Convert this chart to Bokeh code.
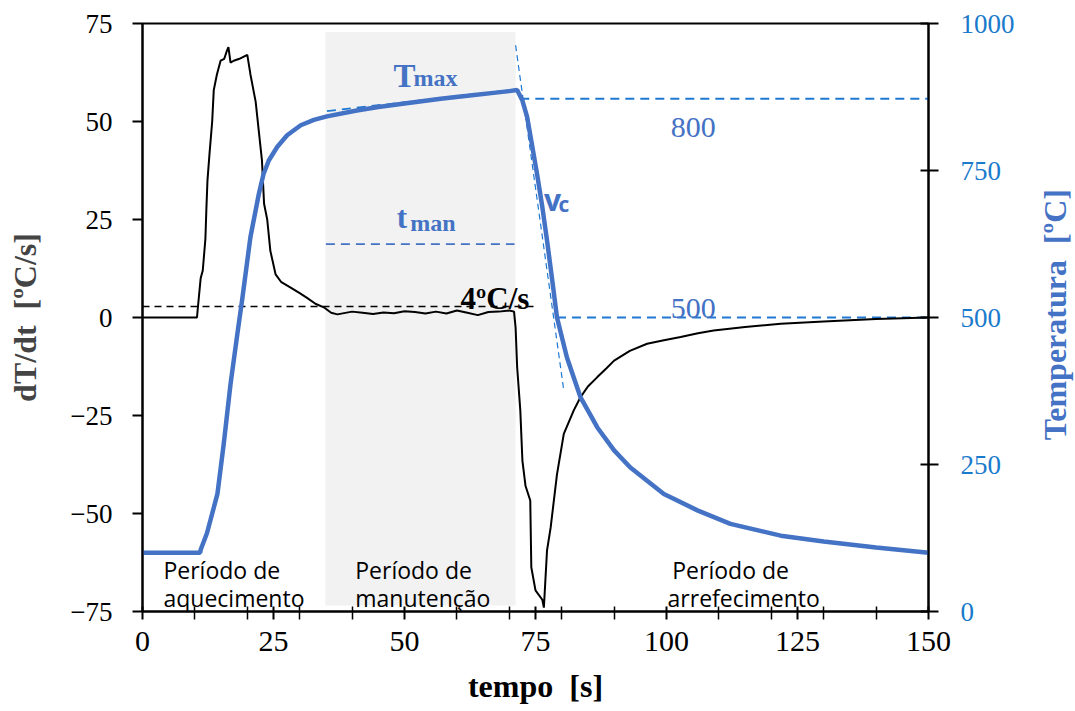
import math
from bokeh.plotting import figure
from bokeh.layouts import row
from bokeh.models import Range1d, LinearAxis, FixedTicker
from bokeh.core.properties import value
from bokeh.embed import file_html
from bokeh.resources import INLINE

# ---------------- data ----------------
t_temp = [0, 11.0, 11.1, 12.3, 14.3, 15.5, 16.8, 18.1, 19.0, 20.6, 22.2, 23.1, 24.1, 25.7,
          27.6, 30.2, 32.7, 35.2, 40.9, 45, 50, 56.9, 62, 67, 70, 71.5, 72.5, 73.4, 74.4,
          75.3, 76.3, 77.2, 78.2, 79.1, 81.0, 83.6, 86.8, 90.0, 93.1, 99.5, 105.9, 112.2,
          121.8, 130, 140, 150]
temp = [100, 100, 105, 133, 200, 285, 387, 472, 529, 637, 710, 744, 767, 790,
        810, 827, 836, 842, 852, 858, 864, 872, 877, 882, 885, 887, 869, 841, 790,
        744, 688, 631, 563, 500, 432, 364, 313, 274, 245, 200, 172, 149,
        129, 119, 109, 100]

t_rate = [0, 10.4, 10.6, 11.1, 11.5, 12.0, 12.2, 12.4, 12.8, 13.3, 13.6, 14.2, 14.9, 15.6,
          16.1, 16.4, 16.8, 17.4, 18.5, 20.0, 20.6, 21.6, 22.2, 22.8, 23.2, 23.8, 24.4,
          25.4, 26.5, 28.2, 30, 31.4, 33, 34.6, 36, 37.2, 40, 42, 44, 46, 48, 50, 52, 54,
          56, 58, 60, 62, 64, 66, 68, 70, 70.9, 71.2, 71.5, 72.1, 72.5, 73.1, 74.0,
          74.2, 75.0, 76.3, 76.6, 77.2, 77.9, 79.1, 80.4, 82.3, 83.6, 85.0, 86.8, 88.5,
          90, 93, 96.3, 99.5, 102.7, 106, 109, 115, 121.8, 130, 140, 150]
rate = [0, 0, 3, 10, 12, 20, 28, 35, 42, 50, 58, 62, 65.5, 66, 68, 69, 65, 65.5, 66, 67,
        62, 55, 47.5, 40, 29, 25, 17, 11, 9, 7.7, 6.2, 5, 3.5, 2.6, 1.2, 0.8, 1.5, 1.2, 0.9,
        1.3, 1.1, 1.6, 1.4, 1.0, 1.5, 1.0, 1.8, 1.2, 0.6, 1.4, 1.5, 1.8, 1.5, -2.5, -12.7,
        -23.7, -36.5, -43, -46.7, -63.7, -69.6, -72, -74, -59.4, -53.5, -40, -29.7,
        -23.7, -20.3, -17.6, -15.2, -13.0, -11, -8.5, -6.7, -5.8, -5, -4.0, -3.3, -2.4,
        -1.6, -1.0, -0.4, 0]

x_ticks = [0, 25, 50, 75, 100, 125, 150]
x_minor = [10, 20, 30, 40, 60, 70, 80, 90, 110, 120, 130, 140]
rate_ticks = [-75, -50, -25, 0, 25, 50, 75]
temp_ticks = [0, 250, 500, 750, 1000]

hold_period = [34.9, 71.2]        # período de manutenção
rate_ref = 2.8                    # "4ºC/s" reference line
tmax_line_t = [35.2, 71.5]
tmax_line_T = [851, 888]
t800 = [72.1, 150]
T800 = [872, 872]
t500 = [79.1, 150]
T500 = [500, 500]
vc_t = [71.2, 80.4]
vc_T = [963, 376]
tman_t = [35, 71]
tman_y = [18.7, 18.7]

# ---------------- figure ----------------
BLUE = "#4472c4"
DBLUE = "#1f78d1"
AXBLUE = "#1a7acb"
SERIF = "Liberation Serif"
SANS = "Open Sans"
NB = "\u00a0"

p = figure(width=1025, height=711, x_range=Range1d(0, 150), y_range=Range1d(-75, 75),
           output_backend="svg", toolbar_location=None,
           min_border_left=142, min_border_right=97, min_border_top=23, min_border_bottom=100)
p.extra_y_ranges = {"temp": Range1d(0, 1000)}
p.grid.visible = False
p.outline_line_color = "black"
p.outline_line_width = 2
p.background_fill_color = "white"
p.border_fill_color = "white"

# shaded holding period
p.quad(left=[hold_period[0]], right=[hold_period[1]], bottom=[-73.5], top=[72.8],
       fill_color="#f2f2f2", line_color=None)

# axes styling
xa = p.xaxis[0]
xa.ticker = FixedTicker(ticks=x_ticks, minor_ticks=x_minor)
xa.axis_label = "tempo" + NB + NB + "[s]"
ya = p.yaxis[0]
ya.ticker = FixedTicker(ticks=rate_ticks)
ya.axis_label = "dT/dt" + NB + NB + "[ºC/s]"

ra = LinearAxis(y_range_name="temp", ticker=FixedTicker(ticks=temp_ticks))
p.add_layout(ra, "right")

for ax in (xa, ya, ra):
    ax.axis_line_color = "black"
    ax.axis_line_width = 2
    ax.major_tick_line_color = "black"
    ax.major_tick_line_width = 2
    ax.minor_tick_line_color = "black"
    ax.minor_tick_line_width = 1.5
    ax.major_label_text_font = SERIF
    ax.major_label_text_font_size = "27px"
    ax.axis_label_text_font = SERIF
    ax.axis_label_text_font_style = "bold"
    ax.axis_label_text_font_size = "32px"

xa.major_tick_in = 5
xa.major_tick_out = 8
xa.minor_tick_in = 5
xa.minor_tick_out = 8
xa.major_label_standoff = 12
xa.axis_label_standoff = 14
xa.major_label_text_font_size = "30px"
xa.major_label_text_color = "black"
xa.axis_label_text_color = "black"

ya.major_tick_in = 0
ya.major_tick_out = 10
ya.minor_tick_out = 0
ya.minor_tick_in = 0
ya.major_label_standoff = 20
ya.axis_label_standoff = 24
ya.major_label_text_color = "black"

ra.major_tick_in = 8
ra.major_tick_out = 10
ra.minor_tick_out = 0
ra.minor_tick_in = 0
ra.major_label_standoff = 22
ra.major_label_text_color = AXBLUE

# reference / tangent lines
p.line([0, 75.3], [rate_ref, rate_ref], line_color="black", line_width=1.6, line_dash="7 5")
p.line(tman_t, tman_y, line_color=BLUE, line_width=1.8, line_dash="9 6")
p.line(tmax_line_t, tmax_line_T, y_range_name="temp", line_color=DBLUE, line_width=1.8, line_dash="9 6")
p.line(t800, T800, y_range_name="temp", line_color=DBLUE, line_width=1.8, line_dash="9 6")
p.line(t500, T500, y_range_name="temp", line_color=DBLUE, line_width=1.8, line_dash="9 6")
p.line(vc_t, vc_T, y_range_name="temp", line_color=DBLUE, line_width=1.2, line_dash="6 4")

# data curves
p.line(t_rate, rate, line_color="black", line_width=2)
p.line(t_temp, temp, y_range_name="temp", line_color=BLUE, line_width=4.5)

# annotations
def txt(x, y, s, size, color, font, style="normal", rng="default", align="left"):
    p.text(x=[x], y=[y], text=[s], text_font=value(font), text_font_size=size,
           text_color=color, text_font_style=style, text_baseline="alphabetic",
           text_align=align, y_range_name=rng)

txt(47.9, 61.5, "T", "33px", BLUE, SERIF, "bold")
txt(51.7, 61.0, "max", "24px", BLUE, SERIF, "bold")
txt(48.5, 25.5, "t", "31px", BLUE, SERIF, "bold")
txt(51.1, 24.0, "man", "24px", BLUE, SERIF, "bold")
txt(76.6, 30.0, "v", "30px", BLUE, SANS, "bold")
txt(79.4, 29.0, "c", "21px", BLUE, SANS, "bold")
txt(60.7, 4.8, "4ºC/s", "31px", "black", SERIF, "bold")
txt(100.8, 48.5, "800", "30px", BLUE, SERIF)
txt(100.8, 2.3, "500", "30px", BLUE, SERIF)

txt(4.0, -64.4, "Período de", "23px", "black", SANS)
txt(4.0, -71.6, "aquecimento", "23px", "black", SANS)
txt(40.6, -64.4, "Período de", "23px", "black", SANS)
txt(40.6, -71.6, "manutenção", "23px", "black", SANS)
txt(101.1, -64.4, "Período de", "23px", "black", SANS)
txt(100.2, -71.6, "arrefecimento", "23px", "black", SANS)

# right-hand axis title, in a narrow companion figure (reads bottom-to-top)
q = figure(width=50, height=711, x_range=Range1d(0, 50), y_range=Range1d(0, 711),
           output_backend="svg", toolbar_location=None, min_border=0)
q.axis.visible = False
q.grid.visible = False
q.outline_line_color = None
q.border_fill_color = "white"
q.text(x=[29], y=[359], text=["Temperatura" + NB + NB + "[ºC]"], angle=math.pi / 2,
       text_align="center", text_baseline="middle", text_font=value(SERIF),
       text_font_style="bold", text_font_size="32px", text_color=BLUE)

open("out.html", "w").write(file_html(row(p, q, spacing=0), INLINE))
